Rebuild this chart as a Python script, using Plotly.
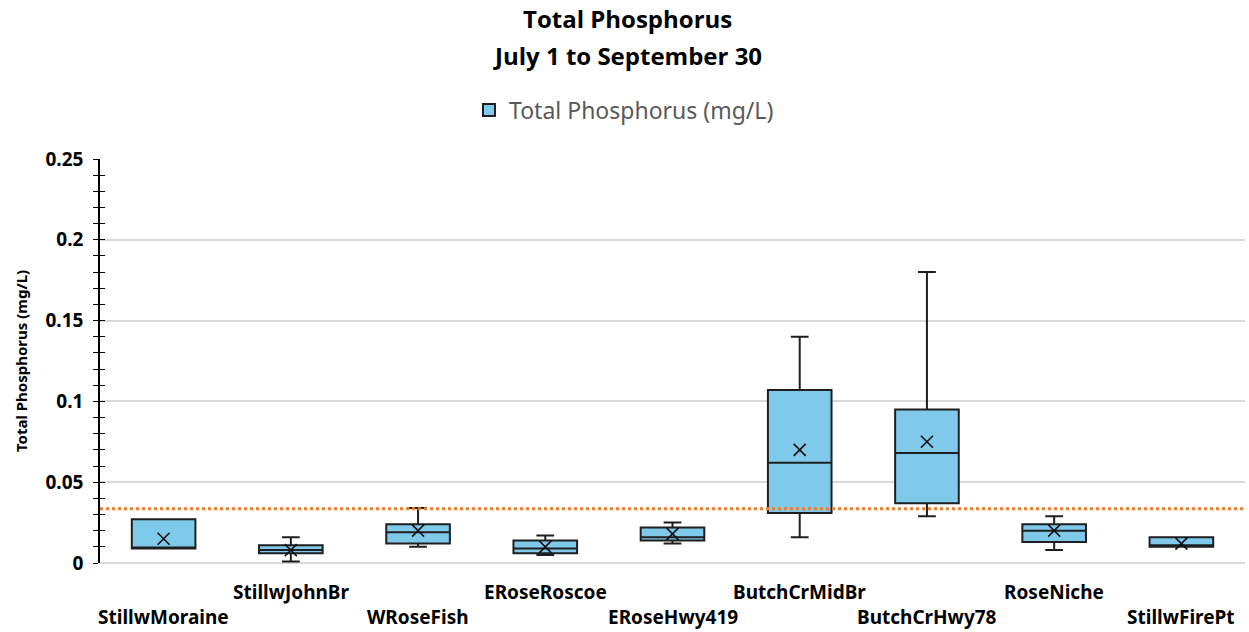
import plotly.graph_objects as go

# Sampling sites along the x axis
sites = ["StillwMoraine", "StillwJohnBr", "WRoseFish", "ERoseRoscoe", "ERoseHwy419",
         "ButchCrMidBr", "ButchCrHwy78", "RoseNiche", "StillwFirePt"]

# Box-plot statistics for total phosphorus (mg/L), July 1 - September 30
tp_min = [0.009, 0.001, 0.010, 0.005, 0.012, 0.016, 0.029, 0.008, 0.010]
tp_q1 = [0.009, 0.006, 0.012, 0.006, 0.014, 0.031, 0.037, 0.013, 0.010]
tp_median = [0.009, 0.008, 0.019, 0.009, 0.016, 0.062, 0.068, 0.020, 0.011]
tp_q3 = [0.027, 0.011, 0.024, 0.014, 0.022, 0.107, 0.095, 0.024, 0.016]
tp_max = [0.027, 0.016, 0.034, 0.017, 0.025, 0.140, 0.180, 0.029, 0.016]
tp_mean = [0.015, 0.008, 0.020, 0.010, 0.018, 0.070, 0.075, 0.020, 0.012]

# Water-quality threshold drawn as a dotted reference line
tp_threshold = 0.0335

title_lines = ["Total Phosphorus", "July 1 to September 30"]

FILL = "#7FCAEA"
EDGE = "#1F1F1F"
BODY_FONT = "Noto Sans"
TITLE_FONT = "Open Sans"

W, H = 1249, 632
M_L, M_R, M_T, M_B = 100, 4, 159, 69
plot_h = H - M_T - M_B
plot_w = W - M_L - M_R


def paper_y(px):
    return (H - M_B - px) / plot_h


def paper_x(px):
    return (px - M_L) / plot_w


fig = go.Figure()

fig.add_trace(go.Box(
    x=sites,
    q1=tp_q1,
    median=tp_median,
    q3=tp_q3,
    lowerfence=tp_min,
    upperfence=tp_max,
    name="Total Phosphorus (mg/L)",
    fillcolor=FILL,
    line=dict(color=EDGE, width=2),
    whiskerwidth=0.28,
    width=0.5,
    boxpoints=False,
    hoverinfo="skip",
    showlegend=True,
))

# Mean of each site shown as an X
fig.add_trace(go.Scatter(
    x=sites,
    y=tp_mean,
    mode="markers",
    marker=dict(symbol="x-thin-open", size=12, color="#111111",
                line=dict(color="#111111", width=1.6)),
    showlegend=False,
    hoverinfo="skip",
))

# Invisible trace that carries the mirrored (inside) tick axis
fig.add_trace(go.Scatter(
    x=[sites[0]], y=[0], yaxis="y2", mode="markers",
    marker=dict(opacity=0), showlegend=False, hoverinfo="skip",
))

fig.add_shape(
    type="line", xref="paper", yref="y",
    x0=0, x1=1, y0=tp_threshold, y1=tp_threshold,
    line=dict(color="#ED7D31", width=3, dash="dot"),
    layer="above",
)

# Staggered category labels: alternate rows below the axis
for i, s in enumerate(sites):
    fig.add_annotation(
        x=s, y=0, xref="x", yref="y",
        text=f"<b>{s}</b>", showarrow=False,
        yanchor="middle", xanchor="center",
        yshift=-54 if i % 2 == 0 else -29,
        borderpad=0,
        font=dict(family=BODY_FONT, size=19, color="#000000"),
    )

# Two-line chart title
for line, py in zip(title_lines, [19, 55]):
    fig.add_annotation(
        x=paper_x(627), y=paper_y(py), xref="paper", yref="paper",
        text=f"<b>{line}</b>", showarrow=False,
        xanchor="center", yanchor="middle",
        font=dict(family=TITLE_FONT, size=24, color="#000000"),
    )

fig.update_layout(
    width=W, height=H,
    margin=dict(l=M_L, r=M_R, t=M_T, b=M_B),
    paper_bgcolor="white",
    plot_bgcolor="white",
    legend=dict(
        orientation="h",
        x=624 / W, xref="container", xanchor="center",
        y=1 - 110 / H, yref="container", yanchor="middle",
        font=dict(family=BODY_FONT, size=23, color="#595959"),
    ),
    xaxis=dict(
        type="category",
        showticklabels=False,
        ticks="",
        showgrid=False,
        showline=False,
        zeroline=False,
        range=[-0.5, len(sites) - 0.5],
    ),
    yaxis=dict(
        range=[0, 0.25],
        dtick=0.05,
        tickformat="~g",
        showgrid=True,
        gridcolor="#D9D9D9",
        gridwidth=1.5,
        zeroline=True,
        zerolinecolor="#D9D9D9",
        zerolinewidth=2,
        showline=True,
        linecolor="#000000",
        linewidth=1.5,
        ticks="outside",
        ticklen=5,
        tickcolor="#000000",
        ticklabelstandoff=6,
        tickfont=dict(family=BODY_FONT, size=19, color="#000000", weight="bold"),
        minor=dict(dtick=0.01, ticks="outside", ticklen=5, tickcolor="#000000", showgrid=False),
        title=dict(
            text="<b>Total Phosphorus (mg/L)</b>",
            font=dict(family=BODY_FONT, size=15, color="#000000"),
            standoff=14,
        ),
    ),
    yaxis2=dict(
        overlaying="y",
        side="left",
        anchor="x",
        range=[0, 0.25],
        dtick=0.05,
        showgrid=False,
        zeroline=False,
        showline=False,
        showticklabels=False,
        ticks="inside",
        ticklen=5,
        tickcolor="#000000",
        minor=dict(dtick=0.01, ticks="inside", ticklen=5, tickcolor="#000000", showgrid=False),
    ),
)

fig.write_html("out.html")
